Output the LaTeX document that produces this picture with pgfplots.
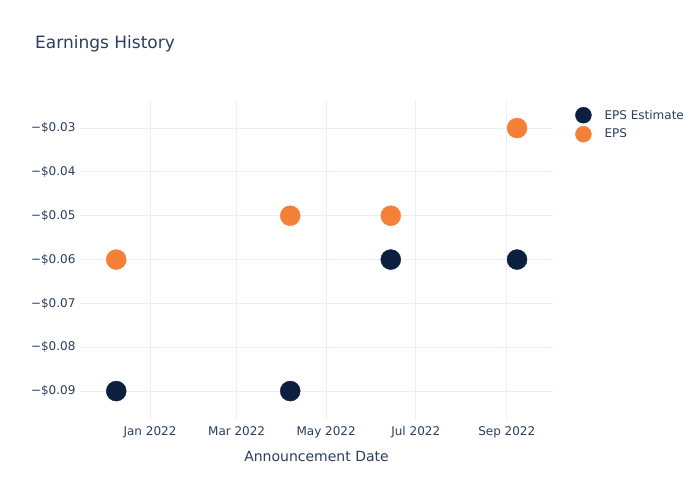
\documentclass[border=0pt]{standalone}
\usepackage{pgfplots}
\pgfplotsset{compat=1.18}
\usepackage{fontspec}
\setmainfont{DejaVu Sans}
\definecolor{txt}{HTML}{2A3F5F}
\definecolor{grid}{HTML}{EBF0F8}
\definecolor{navy}{RGB}{12,31,63}
\definecolor{orng}{RGB}{246,128,56}
\begin{document}
\begin{tikzpicture}[x=1pt,y=1pt]
\path[fill=white] (0,0) rectangle (700,500);
\node[anchor=west,inner sep=0pt,text=txt,font=\fontsize{17}{20}\selectfont] at (35,456) {Earnings History};
\begin{axis}[
  at={(80pt,80pt)}, anchor=south west,
  scale only axis, width=473pt, height=320pt,
  xmin=-47.7, xmax=274.5, ymin=-0.0966, ymax=-0.0236,
  scaled y ticks=false, scaled x ticks=false,
  axis line style={draw=none},
  major tick length=0pt,
  grid=major, grid style={draw=grid, line width=1pt},
  xtick={0,59,120,181,243},
  xticklabels={Jan 2022,Mar 2022,May 2022,Jul 2022,Sep 2022},
  ytick={-0.09,-0.08,-0.07,-0.06,-0.05,-0.04,-0.03},
  yticklabels={−\$0.09,−\$0.08,−\$0.07,−\$0.06,−\$0.05,−\$0.04,−\$0.03},
  ticklabel style={text=txt,font=\fontsize{12}{14}\selectfont},
  xticklabel style={yshift=-3pt},
  yticklabel style={xshift=-1pt},
  xlabel={Announcement Date},
  xlabel style={text=txt,font=\fontsize{14}{17}\selectfont, yshift=-6pt},
  legend style={draw=none, fill=none, at={(1.0,1.0)}, anchor=north west,
    xshift=22pt, yshift=-7pt, inner sep=0pt,
    font=\fontsize{12}{14}\selectfont, text=txt,
    row sep=3pt, cells={anchor=west}},
  legend cell align=left,
  legend image code/.code={\path (-8pt,0pt) (19pt,0pt);\draw[#1,mark size=8pt] plot coordinates {(0pt,0pt)};},
  clip=false,
]
\addplot[only marks, mark=*, mark size=10pt, color=navy, mark options={draw=navy, fill=navy}]
  coordinates {(-23,-0.09) (95.5,-0.09) (164,-0.06) (250,-0.06)};
\addlegendentry{EPS Estimate}
\addplot[only marks, mark=*, mark size=10pt, color=orng, mark options={draw=orng, fill=orng}]
  coordinates {(-23,-0.06) (95.5,-0.05) (164,-0.05) (250,-0.03)};
\addlegendentry{EPS}
\end{axis}
\end{tikzpicture}
\end{document}
